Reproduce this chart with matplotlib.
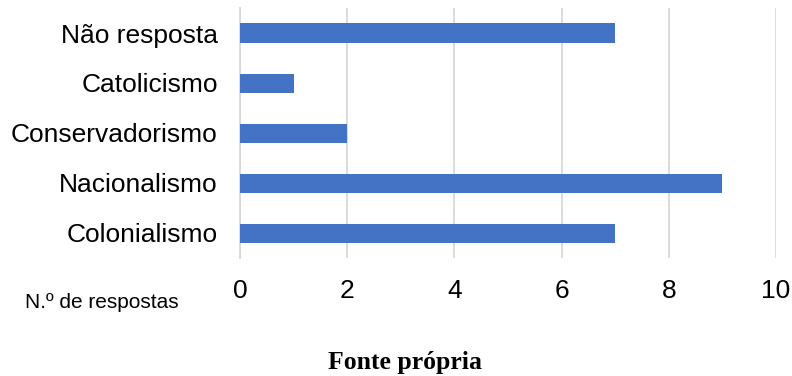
import matplotlib.pyplot as plt

categories = ['Colonialismo', 'Nacionalismo', 'Conservadorismo', 'Catolicismo', 'Não resposta']
counts = [7, 9, 2, 1, 7]
x_ticks = [0, 2, 4, 6, 8, 10]

plt.rcParams['font.family'] = ['Liberation Sans', 'DejaVu Sans']

fig = plt.figure(figsize=(7.92, 3.76), dpi=100)
ax = fig.add_axes([240 / 792, 118 / 376, 536 / 792, 250 / 376])

ax.barh(range(len(categories)), counts, height=0.38, color='#4472C4', zorder=3)
ax.set_yticks(range(len(categories)))
ax.set_yticklabels(categories, fontsize=19)
ax.set_ylim(-0.5, len(categories) - 0.5)

ax.set_xlim(0, 10)
ax.set_xticks(x_ticks)
ax.set_xticklabels([str(t) for t in x_ticks], fontsize=19)
ax.grid(axis='x', color='#D9D9D9', linewidth=1.3, zorder=0)
ax.tick_params(length=0)
ax.tick_params(axis='x', pad=15)
ax.tick_params(axis='y', pad=16)
for side in ['top', 'right', 'bottom']:
    ax.spines[side].set_visible(False)
ax.spines['left'].set_color('#D9D9D9')
ax.spines['left'].set_linewidth(1.3)

fig.text(102 / 792, 1 - 303 / 376, 'N.º de respostas', fontsize=15, ha='center', va='center')
fig.text(405 / 792, 1 - 362 / 376, 'Fonte própria', fontsize=18.5, fontweight='bold',
         family='Liberation Serif', ha='center', va='center')

fig.savefig('out.png', dpi=100)
